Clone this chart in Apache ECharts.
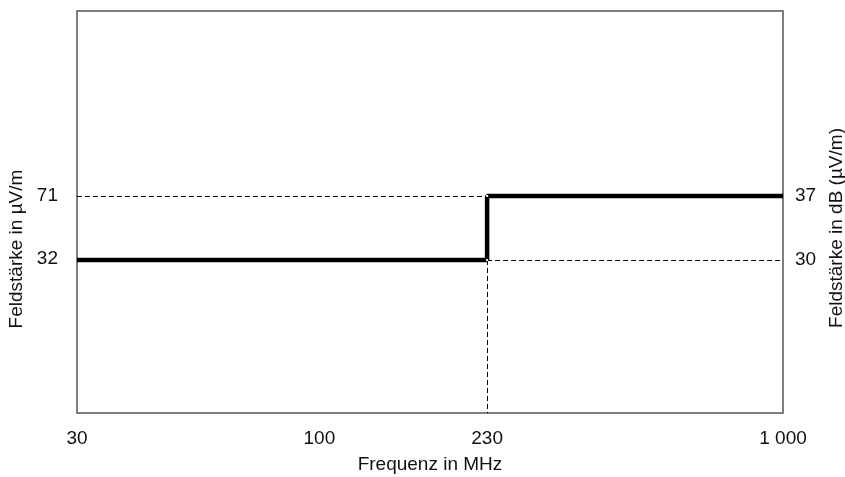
<!DOCTYPE html>
<html>
<head>
<meta charset="utf-8">
<script src="https://cdn.jsdelivr.net/npm/echarts@6/dist/echarts.min.js"></script>
<style>
html,body{margin:0;padding:0;background:#fff;}
#c{width:845px;height:477px;}
</style>
</head>
<body>
<div id="c"></div>
<script>
// Data
var freqMHz = [30, 230, 230, 1000];          // x values of the limit line
var levelDb = [30, 30, 37, 37];               // limit in dB(µV/m)
var xTicks = [30, 100, 230, 1000];
var xTickLabels = ['30', '100', '230', '1 000'];
var leftTicks = [32, 71];                     // µV/m
var leftTickLabels = ['32', '71'];
var rightTicks = [30, 37];                    // dB(µV/m)
var rightTickLabels = ['30', '37'];
var dbMin = 13.3, dbMax = 57.2;               // visible dB range

var font = 'Liberation Sans, Arial, sans-serif';
var fs = 19;
var chart = echarts.init(document.getElementById('c'), null, {renderer: 'canvas'});

var seriesData = freqMHz.map(function (f, i) { return [f, levelDb[i]]; });

chart.setOption({
  animation: false,
  backgroundColor: '#ffffff',
  grid: {
    left: 77, right: 62, top: 11, bottom: 64,
    outerBoundsMode: 'none', containLabel: false,
    show: true, borderColor: '#555', borderWidth: 1.5, backgroundColor: 'transparent'
  },
  xAxis: {
    type: 'log', min: 30, max: 1000,
    name: 'Frequenz in MHz', nameLocation: 'middle', nameGap: 42,
    nameTextStyle: {fontFamily: font, fontSize: fs, color: '#111'},
    axisLine: {show: false}, axisTick: {show: false}, splitLine: {show: false},
    axisLabel: {
      customValues: xTicks,
      fontFamily: font, fontSize: fs, color: '#111', margin: 16,
      formatter: function (v) { var i = xTicks.indexOf(Math.round(v)); return i >= 0 ? xTickLabels[i] : ''; }
    }
  },
  yAxis: [
    {
      type: 'log', position: 'left',
      min: Math.pow(10, dbMin / 20), max: Math.pow(10, dbMax / 20),
      name: 'Feldstärke in µV/m', nameLocation: 'middle', nameGap: 48, nameRotate: 90,
      nameTextStyle: {fontFamily: font, fontSize: fs, color: '#111', padding: [0, 74, 0, 0]},
      axisLine: {show: false}, axisTick: {show: false}, splitLine: {show: false},
      axisLabel: {
        customValues: leftTicks,
        fontFamily: font, fontSize: fs, color: '#111', margin: 19,
        formatter: function (v) { var i = leftTicks.indexOf(Math.round(v)); return i >= 0 ? leftTickLabels[i] : ''; }
      }
    },
    {
      type: 'value', position: 'right', min: dbMin, max: dbMax,
      name: 'Feldstärke in dB (µV/m)', nameLocation: 'middle', nameGap: 41, nameRotate: 90,
      nameTextStyle: {fontFamily: font, fontSize: fs, color: '#111', padding: [0, 32, 0, 0]},
      axisLine: {show: false}, axisTick: {show: false}, splitLine: {show: false},
      axisLabel: {
        customValues: rightTicks,
        fontFamily: font, fontSize: fs, color: '#111', margin: 12,
        formatter: function (v) { var i = rightTicks.indexOf(Math.round(v)); return i >= 0 ? rightTickLabels[i] : ''; }
      }
    }
  ],
  series: [{
    type: 'line',
    yAxisIndex: 1,
    data: seriesData,
    lineStyle: {color: '#000', width: 4.5},
    symbol: 'rect',
    symbolSize: function (v, p) { return (p.dataIndex === 1 || p.dataIndex === 2) ? 2 : 0; },
    itemStyle: {color: '#fff', borderWidth: 0},
    z: 5,
    markLine: {
      silent: true, symbol: 'none', label: {show: false},
      lineStyle: {color: '#000', width: 1, type: [5, 3]},
      data: [
        [{coord: [freqMHz[0], levelDb[2]]}, {coord: [freqMHz[3], levelDb[2]]}],
        [{coord: [freqMHz[1], levelDb[1]]}, {coord: [freqMHz[3], levelDb[1]]}],
        [{coord: [freqMHz[1], levelDb[2]]}, {coord: [freqMHz[1], dbMin]}]
      ],
      z: 1
    }
  }]
});
</script>
</body>
</html>
